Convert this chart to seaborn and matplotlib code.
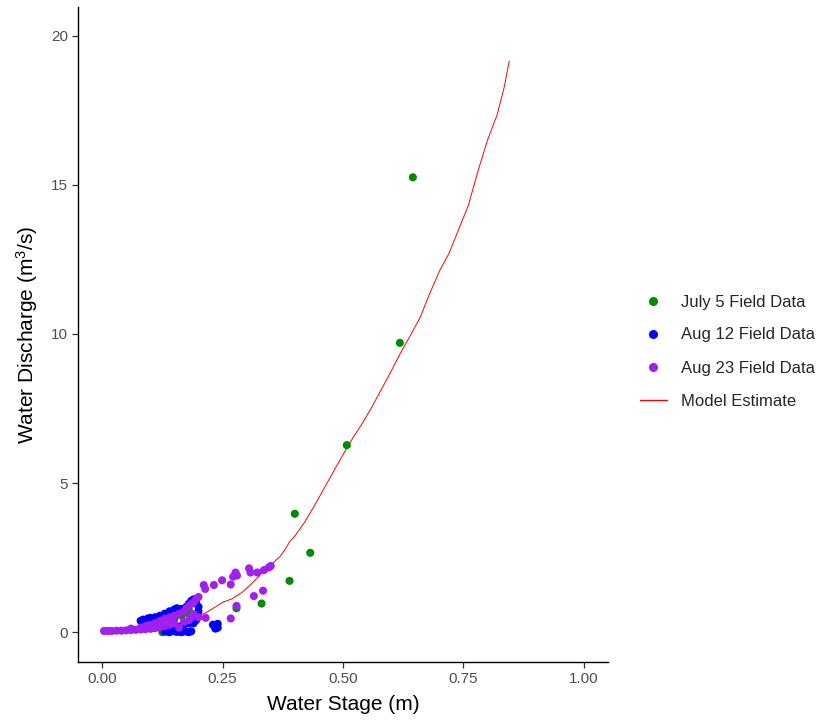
import numpy as np
import pandas as pd
import matplotlib
matplotlib.use("Agg")
import matplotlib.pyplot as plt
import seaborn as sns
from matplotlib.lines import Line2D

# ---- data ----
july5_stage = [0.645, 0.618, 0.508, 0.400, 0.432, 0.389, 0.331, 0.279,
               0.125, 0.135, 0.150, 0.165, 0.175, 0.180]
july5_q = [15.25, 9.70, 6.27, 3.97, 2.66, 1.72, 0.96, 0.80,
           0.00, 0.02, 0.45, 0.55, 0.65, 0.75]

aug12_stage = [0.130, 0.140, 0.150, 0.155, 0.160, 0.165, 0.170, 0.175, 0.180, 0.185,
               0.140, 0.150, 0.160, 0.170, 0.180, 0.190, 0.195,
               0.080, 0.085, 0.095, 0.100, 0.110, 0.120, 0.130, 0.140, 0.150, 0.155,
               0.165, 0.175, 0.180, 0.185, 0.190, 0.195, 0.200, 0.200, 0.195,
               0.230, 0.235, 0.240, 0.235, 0.240]
aug12_q = [0.02, 0.00, 0.03, 0.01, 0.02, 0.00, 0.04, 0.02, 0.00, 0.03,
           0.18, 0.20, 0.18, 0.25, 0.30, 0.30, 0.40,
           0.38, 0.42, 0.46, 0.48, 0.50, 0.55, 0.62, 0.70, 0.76, 0.80,
           0.78, 0.85, 0.95, 1.05, 1.10, 1.00, 0.85, 0.70, 0.55,
           0.25, 0.20, 0.15, 0.12, 0.28]

aug23_stage = [0.004, 0.012, 0.020, 0.030, 0.040, 0.050, 0.060, 0.070, 0.080, 0.090,
               0.100, 0.110, 0.120, 0.060, 0.080, 0.090, 0.100, 0.110, 0.120, 0.130,
               0.140, 0.150, 0.160, 0.170, 0.175, 0.180, 0.185, 0.190, 0.195, 0.200,
               0.130, 0.140, 0.150, 0.160, 0.170, 0.180, 0.185, 0.190, 0.200, 0.215,
               0.211, 0.214, 0.232, 0.249, 0.267, 0.272, 0.277, 0.280, 0.305, 0.308,
               0.322, 0.336, 0.346, 0.350, 0.315, 0.334, 0.279, 0.267]
aug23_q = [0.04, 0.04, 0.04, 0.05, 0.05, 0.06, 0.07, 0.08, 0.09, 0.10,
           0.12, 0.14, 0.16, 0.12, 0.15, 0.20, 0.25, 0.30, 0.38, 0.45,
           0.50, 0.55, 0.62, 0.70, 0.80, 0.88, 0.95, 1.00, 1.10, 1.18,
           0.20, 0.25, 0.30, 0.15, 0.35, 0.40, 0.50, 0.60, 0.50, 0.48,
           1.58, 1.45, 1.58, 1.74, 1.60, 1.86, 2.00, 1.90, 2.14, 2.00,
           2.00, 2.08, 2.17, 2.22, 1.21, 1.39, 0.88, 0.46]

model_stage = [0.10, 0.13, 0.16, 0.19, 0.22, 0.25, 0.27, 0.29, 0.31, 0.33, 0.35,
               0.37, 0.38, 0.39, 0.40, 0.42, 0.44, 0.46, 0.48, 0.50, 0.52, 0.54,
               0.56, 0.58, 0.60, 0.62, 0.64, 0.66, 0.68, 0.70, 0.72, 0.74, 0.76,
               0.78, 0.80, 0.82, 0.835, 0.845]
model_q = [0.00, 0.10, 0.30, 0.47, 0.69, 1.00, 1.12, 1.33, 1.62, 1.95, 2.25,
           2.55, 2.78, 3.05, 3.22, 3.68, 4.22, 4.80, 5.38, 5.95, 6.50, 7.00,
           7.55, 8.15, 8.75, 9.38, 9.95, 10.55, 11.35, 12.10, 12.70, 13.50, 14.30,
           15.45, 16.50, 17.35, 18.30, 19.15]

series_labels = ["July 5 Field Data", "Aug 12 Field Data", "Aug 23 Field Data"]
series_colors = ["#008B00", "#0000FF", "#A020F0"]

points = pd.concat([
    pd.DataFrame({"stage": july5_stage, "q": july5_q, "series": series_labels[0]}),
    pd.DataFrame({"stage": aug12_stage, "q": aug12_q, "series": series_labels[1]}),
    pd.DataFrame({"stage": aug23_stage, "q": aug23_q, "series": series_labels[2]}),
], ignore_index=True)
model = pd.DataFrame({"stage": model_stage, "q": model_q})

# ---- figure ----
sns.set_theme(style="ticks")
plt.rcParams["font.family"] = ["Liberation Sans", "DejaVu Sans"]
plt.rcParams["mathtext.default"] = "regular"

fig = plt.figure(figsize=(8.2, 7.21), dpi=100)
ax = fig.add_axes([78 / 820, 1 - 662 / 721, (608 - 78) / 820, (662 - 7) / 721])

sns.lineplot(data=model, x="stage", y="q", color="red", linewidth=0.7,
             ax=ax, legend=False, zorder=1, sort=False)
sns.scatterplot(data=points, x="stage", y="q", hue="series",
                palette=dict(zip(series_labels, series_colors)),
                hue_order=series_labels, s=34, linewidth=0, ax=ax,
                legend=False, zorder=2)

ax.set_xlim(-0.05, 1.05)
ax.set_ylim(-1.0, 20.96)
ax.set_xticks([0, 0.25, 0.5, 0.75, 1.0])
ax.set_xticklabels(["0.00", "0.25", "0.50", "0.75", "1.00"])
ax.set_yticks([0, 5, 10, 15, 20])

for side in ["top", "right"]:
    ax.spines[side].set_visible(False)
for side in ["left", "bottom"]:
    ax.spines[side].set_color("black")
    ax.spines[side].set_linewidth(1.0)

ax.tick_params(axis="both", colors="#333333", labelcolor="#4D4D4D",
               labelsize=11, length=4, width=0.9, pad=3)
ax.set_xlabel("Water Stage (m)", fontsize=15, color="black", labelpad=7)
ax.set_ylabel("Water Discharge (m$^3$/s)", fontsize=15, color="black", labelpad=8)

handles = [Line2D([], [], marker="o", linestyle="none", color=c, markersize=5.5)
           for c in series_colors]
handles.append(Line2D([], [], color="red", linewidth=1.0))
labels = series_labels + ["Model Estimate"]
fig.legend(handles, labels, loc="center left",
           bbox_to_anchor=(640 / 820, 1 - 351.5 / 721), frameon=False,
           fontsize=12, handlelength=1.6, handletextpad=0.85,
           labelspacing=1.08, borderpad=0, borderaxespad=0)

fig.savefig("out.png", dpi=100)
